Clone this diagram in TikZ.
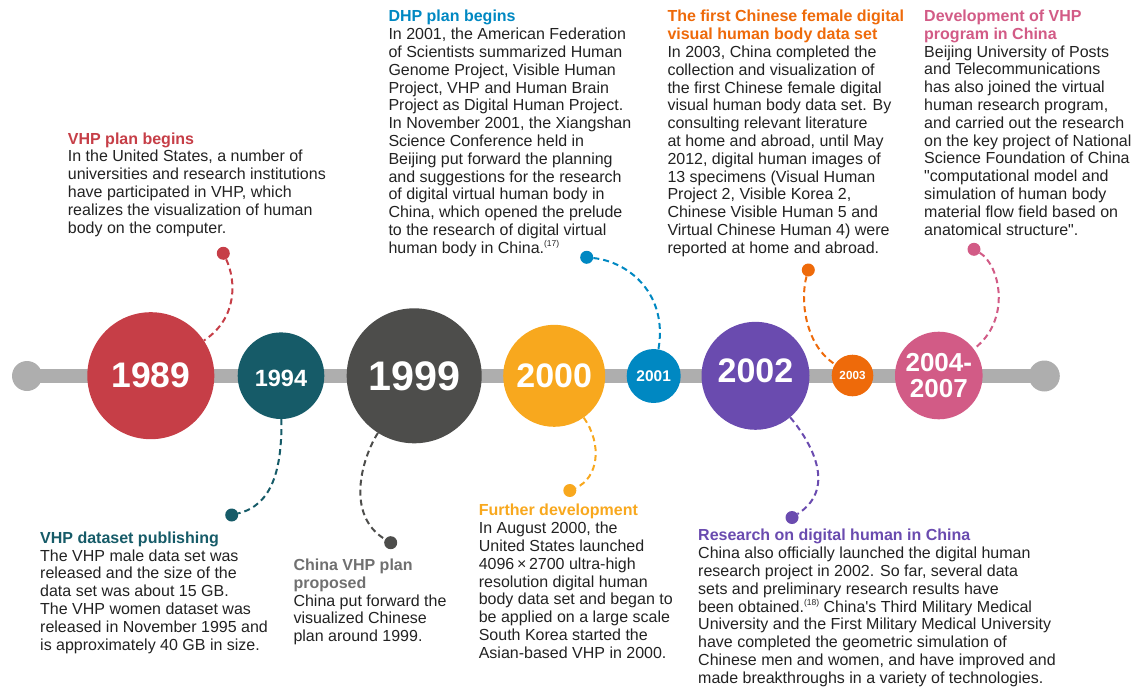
\documentclass[tikz,border=0pt]{standalone}
\usepackage{fontspec}
\setmainfont{Liberation Sans}[Ligatures=TeXOff]
\definecolor{cRed}{HTML}{C63E47}
\definecolor{cTeal}{HTML}{165B68}
\definecolor{cDark}{HTML}{4D4D4B}
\definecolor{cGrayT}{HTML}{707070}
\definecolor{cYel}{HTML}{F8A81E}
\definecolor{cBlue}{HTML}{0088C2}
\definecolor{cPur}{HTML}{6A4BAF}
\definecolor{cOra}{HTML}{EE6A0A}
\definecolor{cPink}{HTML}{D25B86}
\definecolor{lineGray}{HTML}{AEAEAE}
\definecolor{bodytext}{HTML}{222222}
\newcommand{\fsz}[1]{\fontsize{#1}{#1}\selectfont}
\newcommand{\refsup}[1]{{\fontsize{8.5}{8.5}\selectfont\raisebox{6.5pt}{(#1)}}}
\begin{document}
\begin{tikzpicture}[x=1pt,y=-1pt,
  yr/.style={circle, inner sep=0pt, text=white, align=center, font=\bfseries},
  endc/.style={circle, inner sep=0pt, fill=lineGray},
  dotn/.style={circle, inner sep=0pt, minimum size=13pt},
  conn/.style={line width=2pt, dash pattern=on 6pt off 4pt},
  timeline/.style={line width=13.3pt, lineGray},
  blk/.style={anchor=base west, inner sep=0pt, align=left, text=bodytext,
    font=\fontsize{16}{17.8}\selectfont}]
\useasboundingbox (0,0) rectangle (1133,688);

% timeline
\coordinate (Lc) at (27,376);
\coordinate (Rc) at (1044.3,376);
\draw[timeline] (Lc) -- (Rc);
\node[endc, minimum size=30pt] (endL) at (Lc) {};
\node[endc, minimum size=31pt] (endR) at (Rc) {};

% year circles
\node[yr, fill=cRed, minimum size=127pt] (c1989) at (150.8,375.7) {\fsz{35.5}1989};
\node[yr, fill=cTeal, minimum size=86.6pt] (c1994) at (281,375.7) {\fsz{23.5}\raisebox{0pt}[\dimexpr\height+6pt\relax][0pt]{1994}};
\node[yr, fill=cDark, minimum size=135pt] (c1999) at (414.2,375.8) {\fsz{41.3}1999};
\node[yr, fill=cYel, minimum size=102pt] (c2000) at (554.2,375.8) {\fsz{34}2000};
\node[yr, fill=cBlue, minimum size=54pt] (c2001) at (653.7,376) {\fsz{15.5}2001};
\node[yr, fill=cPur, minimum size=108pt] (c2002) at (755.5,375.8) {\fsz{34}\raisebox{0pt}[\height][11pt]{2002}};
\node[yr, fill=cOra, minimum size=41.6pt] (c2003) at (852.5,375.5) {\fsz{11.7}2003};
\node[yr, fill=cPink, minimum size=87.6pt, font={\bfseries\fontsize{26}{26.7}\selectfont}] (c2004) at (938.8,375.5) {2004-\\2007};

% dots
\node[dotn, fill=cRed] (d1989) at (223.3,253.3) {};
\node[dotn, fill=cTeal] (d1994) at (231.7,515) {};
\node[dotn, fill=cDark] (d1999) at (390.7,542.7) {};
\node[dotn, fill=cYel] (d2000) at (569.8,490.5) {};
\node[dotn, fill=cBlue] (d2001) at (586.7,257.3) {};
\node[dotn, fill=cPur] (d2002) at (792,517.5) {};
\node[dotn, fill=cOra] (d2003) at (808.3,270) {};
\node[dotn, fill=cPink] (d2004) at (974,249.3) {};

% connectors
\draw[conn, cRed] (d1989) .. controls (236,280) and (238,318) .. (c1989);
\draw[conn, cTeal] (c1994) .. controls (282,470) and (272,505) .. (d1994);
\draw[conn, cDark] (c1999) .. controls (362,458) and (345,515) .. (d1999);
\draw[conn, cYel] (c2000) .. controls (603,445) and (598,478) .. (d2000);
\draw[conn, cBlue] (d2001) .. controls (630,262) and (668,295) .. (c2001);
\draw[conn, cPur] (c2002) .. controls (815,447) and (835,490) .. (d2002);
\draw[conn, cOra] (d2003) .. controls (800,300) and (805,345) .. (c2003);
\draw[conn, cPink] (d2004) .. controls (1000,265) and (1012,320) .. (c2004);

% text blocks (anchored at the baseline of their last line)
\node[blk] (t1989) at (67.7,233) {{\bfseries\color{cRed}VHP plan begins}\\
In the United States, a number of\\
universities and research institutions\\
have participated in VHP, which\\
realizes the visualization of human\\
body on the computer.};

\node[blk] (t2001) at (388.3,253.3) {{\bfseries\color{cBlue}DHP plan begins}\\
In 2001, the American Federation\\
of Scientists summarized Human\\
Genome Project, Visible Human\\
Project, VHP and Human Brain\\
Project as Digital Human Project.\\
In November 2001, the Xiangshan\\
Science Conference held in\\
Beijing put forward the planning\\
and suggestions for the research\\
of digital virtual human body in\\
China, which opened the prelude\\
to the research of digital virtual\\
human body in China.\refsup{17}};

\node[blk] (t2003) at (667.3,253.3) {{\bfseries\color{cOra}The first Chinese female digital}\\
{\bfseries\color{cOra}visual human body data set}\\
In 2003, China completed the\\
collection and visualization of\\
the first Chinese female digital\\
visual human body data set. By\\
consulting relevant literature\\
at home and abroad, until May\\
2012, digital human images of\\
13 specimens (Visual Human\\
Project 2, Visible Korea 2,\\
Chinese Visible Human 5 and\\
Virtual Chinese Human 4) were\\
reported at home and abroad.};

\node[blk] (t2004) at (924,235) {{\bfseries\color{cPink}Development of VHP}\\
{\bfseries\color{cPink}program in China}\\
Beijing University of Posts\\
and Telecommunications\\
has also joined the virtual\\
human research program,\\
and carried out the research\\
on the key project of National\\
Science Foundation of China\\
"computational model and\\
simulation of human body\\
material flow field based on\\
anatomical structure".};

\node[blk] (t1994) at (40,650) {{\bfseries\color{cTeal}VHP dataset publishing}\\
The VHP male data set was\\
released and the size of the\\
data set was about 15 GB.\\
The VHP women dataset was\\
released in November 1995 and\\
is approximately 40 GB in size.};

\node[blk] (t1999) at (293.3,641.7) {{\bfseries\color{cGrayT}China VHP plan}\\
{\bfseries\color{cGrayT}proposed}\\
China put forward the\\
visualized Chinese\\
plan around 1999.};

\node[blk] (t2000) at (478.6,658.3) {{\bfseries\color{cYel}Further development}\\
In August 2000, the\\
United States launched\\
4096\,×\,2700 ultra-high\\
resolution digital human\\
body data set and began to\\
be applied on a large scale\\
South Korea started the\\
Asian-based VHP in 2000.};

\node[blk] (t2002) at (698,683.3) {{\bfseries\color{cPur}Research on digital human in China}\\
China also officially launched the digital human\\
research project in 2002. So far, several data\\
sets and preliminary research results have\\
been obtained.\refsup{18} China's Third Military Medical\\
University and the First Military Medical University\\
have completed the geometric simulation of\\
Chinese men and women, and have improved and\\
made breakthroughs in a variety of technologies.};
\end{tikzpicture}
\end{document}
